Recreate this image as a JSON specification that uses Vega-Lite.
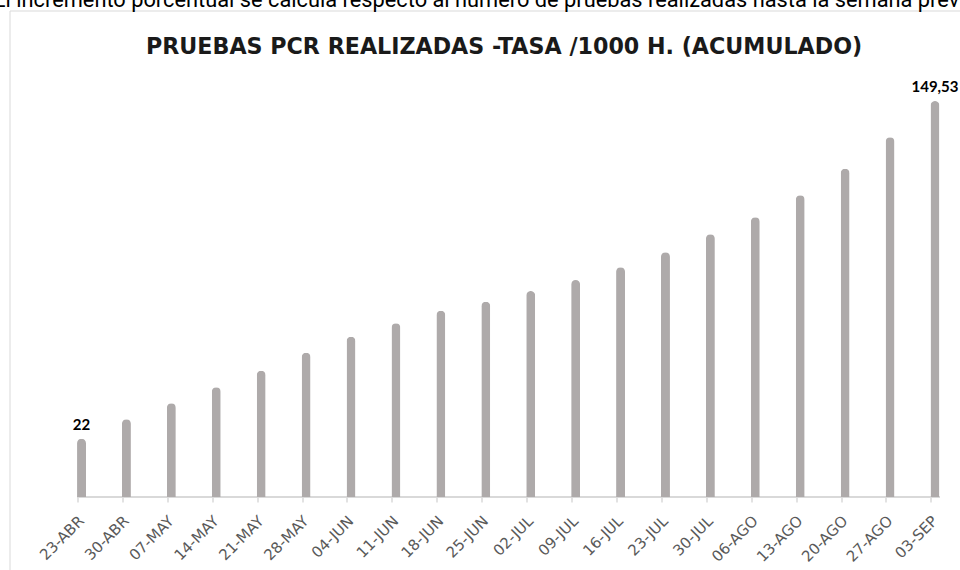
{
  "$schema": "https://vega.github.io/schema/vega-lite/v6.json",
  "width": 950.5,
  "height": 559.5,
  "autosize": {"type": "none"},
  "padding": {"left": 9.5, "top": 10.5, "right": 0, "bottom": 0},
  "background": "white",
  "config": {"view": {"stroke": "#d9d9d9", "strokeWidth": 1}},
  "title": {
    "text": "El incremento porcentual se calcula respecto al número de pruebas realizadas hasta la semana previa",
    "subtitle": "\u200b\u00a0\u00a0\u00a0\u00a0\u00a0PRUEBAS PCR REALIZADAS -TASA /1000 H. (ACUMULADO)",
    "anchor": "middle",
    "orient": "top",
    "offset": -48,
    "font": "Roboto",
    "fontSize": 21.8,
    "fontWeight": "normal",
    "color": "#000000",
    "subtitleFont": "DejaVu Sans",
    "subtitleFontSize": 22.2,
    "subtitleFontWeight": "bold",
    "subtitleColor": "#1a1a1a",
    "subtitlePadding": 25
  },
  "data": {
    "values": [
      {"fecha": "23-ABR", "tasa": 22, "etiqueta": "22"},
      {"fecha": "30-ABR", "tasa": 29.34, "etiqueta": ""},
      {"fecha": "07-MAY", "tasa": 35.38, "etiqueta": ""},
      {"fecha": "14-MAY", "tasa": 41.42, "etiqueta": ""},
      {"fecha": "21-MAY", "tasa": 47.69, "etiqueta": ""},
      {"fecha": "28-MAY", "tasa": 54.49, "etiqueta": ""},
      {"fecha": "04-JUN", "tasa": 60.53, "etiqueta": ""},
      {"fecha": "11-JUN", "tasa": 65.59, "etiqueta": ""},
      {"fecha": "18-JUN", "tasa": 70.35, "etiqueta": ""},
      {"fecha": "25-JUN", "tasa": 73.75, "etiqueta": ""},
      {"fecha": "02-JUL", "tasa": 77.79, "etiqueta": ""},
      {"fecha": "09-JUL", "tasa": 81.94, "etiqueta": ""},
      {"fecha": "16-JUL", "tasa": 86.74, "etiqueta": ""},
      {"fecha": "23-JUL", "tasa": 92.4, "etiqueta": ""},
      {"fecha": "30-JUL", "tasa": 99.2, "etiqueta": ""},
      {"fecha": "06-AGO", "tasa": 105.61, "etiqueta": ""},
      {"fecha": "13-AGO", "tasa": 113.92, "etiqueta": ""},
      {"fecha": "20-AGO", "tasa": 123.97, "etiqueta": ""},
      {"fecha": "27-AGO", "tasa": 135.82, "etiqueta": ""},
      {"fecha": "03-SEP", "tasa": 149.53, "etiqueta": "149,53"}
    ]
  },
  "encoding": {
    "x": {
      "field": "fecha",
      "type": "ordinal",
      "sort": null,
      "scale": {
        "domain": ["23-ABR", "30-ABR", "07-MAY", "14-MAY", "21-MAY", "28-MAY", "04-JUN", "11-JUN", "18-JUN", "25-JUN", "02-JUL", "09-JUL", "16-JUL", "23-JUL", "30-JUL", "06-AGO", "13-AGO", "20-AGO", "27-AGO", "03-SEP"],
        "paddingInner": 0.8,
        "paddingOuter": 0.98,
        "align": 0.767
      },
      "axis": {
        "title": null,
        "orient": "bottom",
        "offset": -73,
        "domain": false,
        "ticks": true,
        "tickColor": "#d9d9d9",
        "tickWidth": 1.5,
        "tickSize": 5,
        "bandPosition": 0.1,
        "labelAngle": -45,
        "labelFont": "DejaVu Sans",
        "labelFontSize": 15,
        "labelColor": "#595959",
        "labelPadding": 11,
        "labelOffset": -5
      }
    },
    "y": {
      "field": "tasa",
      "type": "quantitative",
      "scale": {"domain": [-27.56, 183.7], "nice": false, "zero": false},
      "axis": null
    }
  },
  "layer": [
    {
      "mark": {"type": "rule", "color": "#d9d9d9", "strokeWidth": 1.5},
      "encoding": {
        "x": {"datum": "23-ABR", "bandPosition": 0},
        "x2": {"datum": "03-SEP", "bandPosition": 1},
        "y": {"datum": 0}
      }
    },
    {
      "mark": {"type": "bar", "color": "#aeaaaa", "cornerRadiusEnd": 4.5}
    },
    {
      "transform": [{"filter": "datum.etiqueta != ''"}],
      "mark": {"type": "text", "font": "Lato", "fontSize": 15, "fontWeight": "bold", "color": "#000000", "baseline": "alphabetic", "dy": -9},
      "encoding": {"text": {"field": "etiqueta"}}
    }
  ]
}
